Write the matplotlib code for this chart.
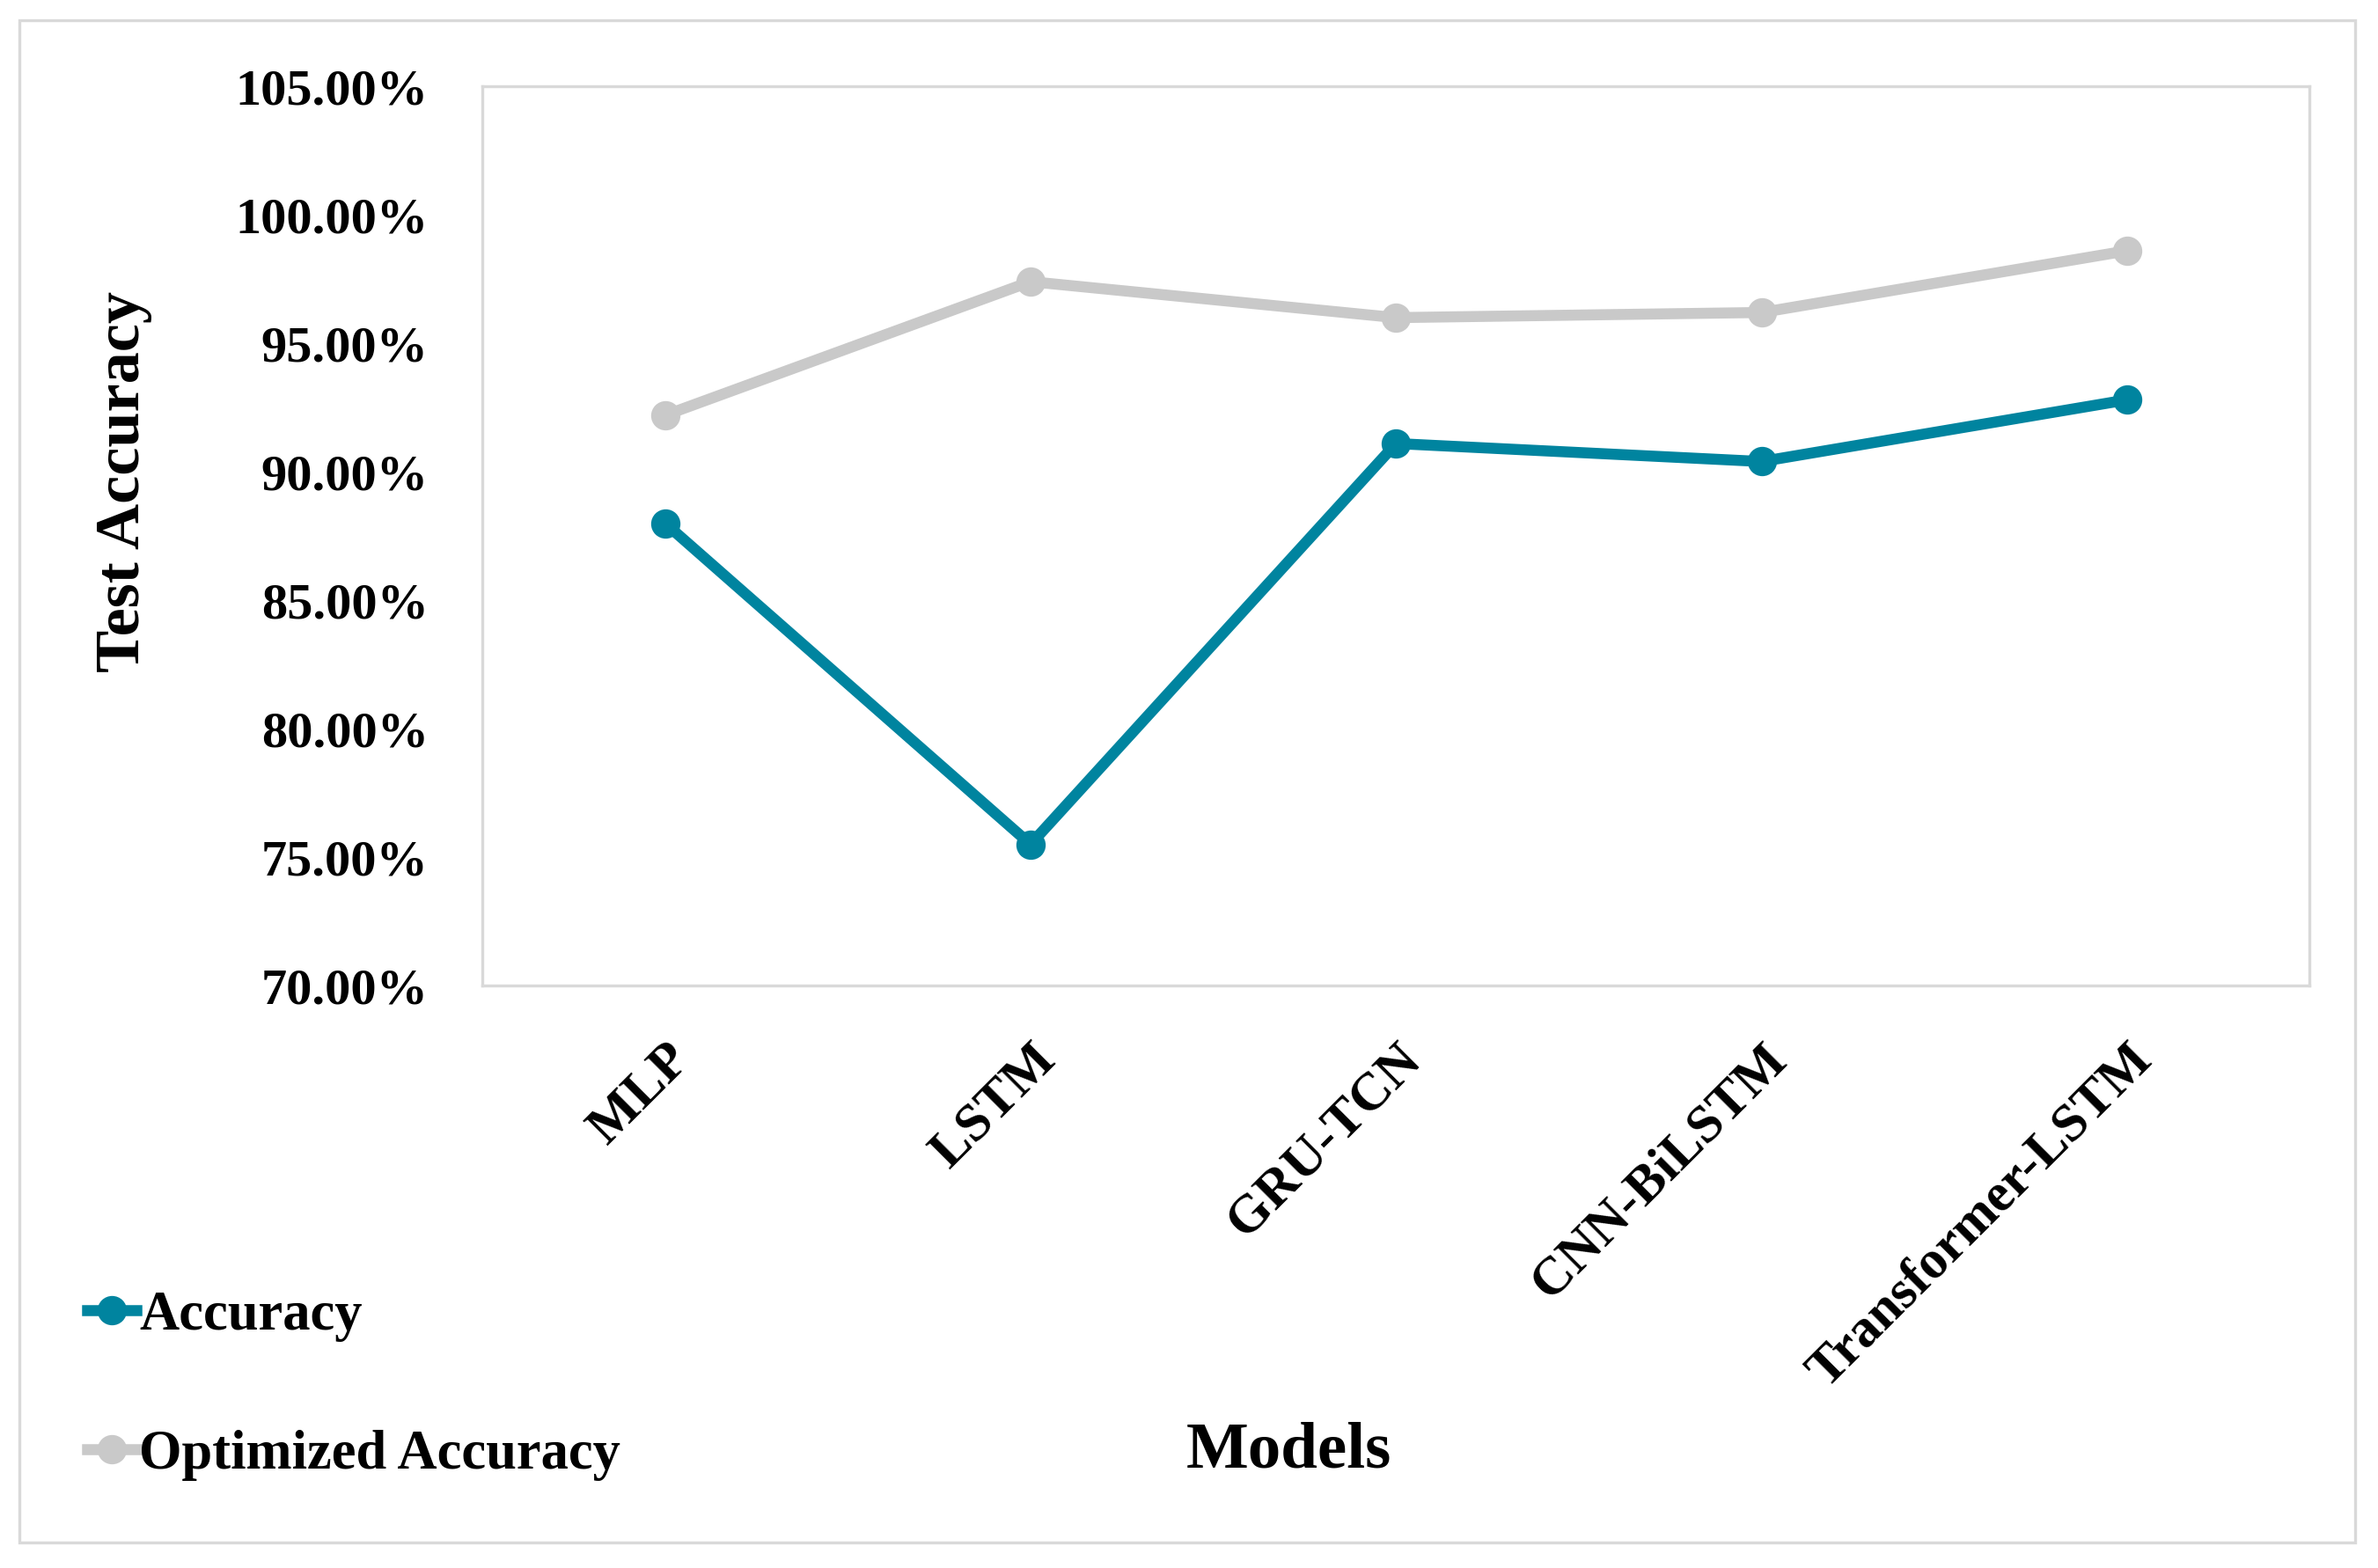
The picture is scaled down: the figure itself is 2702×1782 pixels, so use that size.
import matplotlib
matplotlib.use('Agg')
import matplotlib.pyplot as plt
from matplotlib.patches import Rectangle
from matplotlib.ticker import FuncFormatter

# datos
modelos = ['MLP', 'LSTM', 'GRU-TCN', 'CNN-BiLSTM', 'Transformer-LSTM']
accuracy = [88.0, 75.5, 91.1, 90.4, 92.8]
optimized = [92.2, 97.4, 96.0, 96.2, 98.6]
yticks = [70, 75, 80, 85, 90, 95, 100, 105]

plt.rcParams['font.family'] = ['Liberation Serif', 'DejaVu Serif']
plt.rcParams['font.weight'] = 'bold'

fig = plt.figure(figsize=(13.51, 8.91), dpi=200)
ax = fig.add_axes([0.2028, 0.3714, 0.7685, 0.5735])

x = list(range(len(modelos)))
l1, = ax.plot(x, accuracy, color='#00849F', lw=4.5, marker='o', ms=11, label='Accuracy')
l2, = ax.plot(x, optimized, color='#C9C9C9', lw=4.5, marker='o', ms=11, label='Optimized Accuracy')

ax.set_xlim(-0.5, 4.5)
ax.set_ylim(70, 105)
ax.set_yticks(yticks)
ax.yaxis.set_major_formatter(FuncFormatter(lambda v, p: '%.2f%%' % v))
ax.set_xticks(x)
ax.set_xticklabels(modelos, rotation=45, ha='right', rotation_mode='anchor')
ax.tick_params(axis='both', length=0)
ax.tick_params(axis='y', pad=22, labelsize=21)
ax.tick_params(axis='x', pad=20, labelsize=22)
for lab in ax.get_xticklabels() + ax.get_yticklabels():
    lab.set_fontweight('bold')
for s in ax.spines.values():
    s.set_color('#D9D9D9')
    s.set_linewidth(1.2)

fig.text(0.052, 0.693, 'Test Accuracy', rotation=90, ha='center', va='center',
         fontsize=26, fontweight='bold')
fig.text(0.542, 0.0745, 'Models', ha='center', va='center', fontsize=27, fontweight='bold')

leg = fig.legend(handles=[l1, l2], loc='lower left', bbox_to_anchor=(0.025, 0.038),
                 frameon=False, fontsize=22.5, labelspacing=1.6, handlelength=0.9,
                 handletextpad=0.05, borderpad=0)
for t in leg.get_texts():
    t.set_fontweight('bold')

fig.patches.append(Rectangle((0.0083, 0.0164), 0.9821, 0.9706, transform=fig.transFigure,
                             fill=False, edgecolor='#D9D9D9', lw=1.2))

fig.savefig('out.png', dpi=200)
